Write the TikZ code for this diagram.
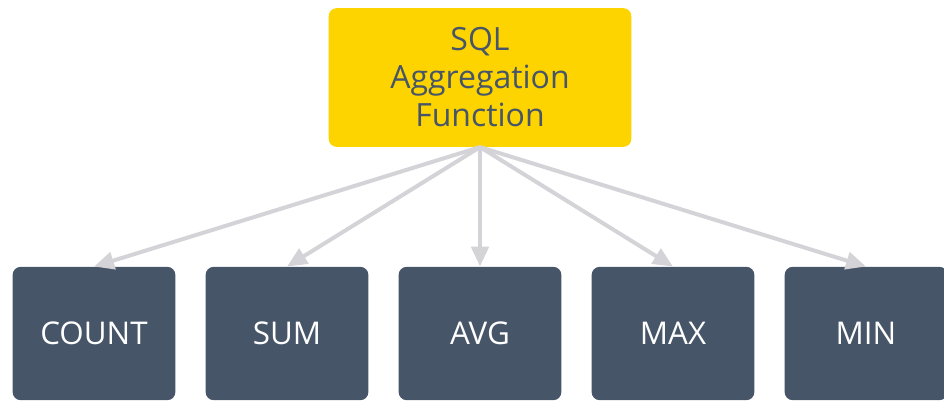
\documentclass[tikz,border=0pt]{standalone}
\usepackage{fontspec}
\setmainfont{Open Sans}
\usepackage{xcolor}
\usetikzlibrary{positioning,arrows.meta}
\definecolor{aggyellow}{HTML}{FDD300}
\definecolor{slatebox}{HTML}{475569}
\definecolor{arrowgray}{HTML}{D4D4D8}
\tikzset{
  topbox/.style={fill=aggyellow, rounded corners=6pt, minimum width=227pt, minimum height=104pt, text=slatebox, align=center, font=\fontsize{24}{28.5}\selectfont},
  fnbox/.style={fill=slatebox, rounded corners=6pt, minimum width=122pt, minimum height=100pt, text=white, font=\fontsize{23.5}{28}\selectfont},
  fnarrow/.style={draw=arrowgray, line width=3pt, -{Triangle[length=15pt,width=13pt]}}
}
\begin{document}
\begin{tikzpicture}[x=0.75pt,y=-0.75pt]
    \useasboundingbox (0,0) rectangle (944,401);
    \node[topbox] (agg) at (480,77.5) {SQL\\Aggregation\\Function};
    \node[fnbox] (count) at (94,333.5) {COUNT};
    \node[fnbox] (sum) at (287,333.5) {SUM};
    \node[fnbox] (avg) at (480,333.5) {AVG};
    \node[fnbox] (maxf) at (673,333.5) {MAX};
    \node[fnbox] (minf) at (866,333.5) {MIN};
    \draw[fnarrow] (agg.south) -- (count.north);
    \draw[fnarrow] (agg.south) -- (sum.north);
    \draw[fnarrow] (agg.south) -- (avg.north);
    \draw[fnarrow] (agg.south) -- (maxf.north);
    \draw[fnarrow] (agg.south) -- (minf.north);
\end{tikzpicture}
\end{document}
